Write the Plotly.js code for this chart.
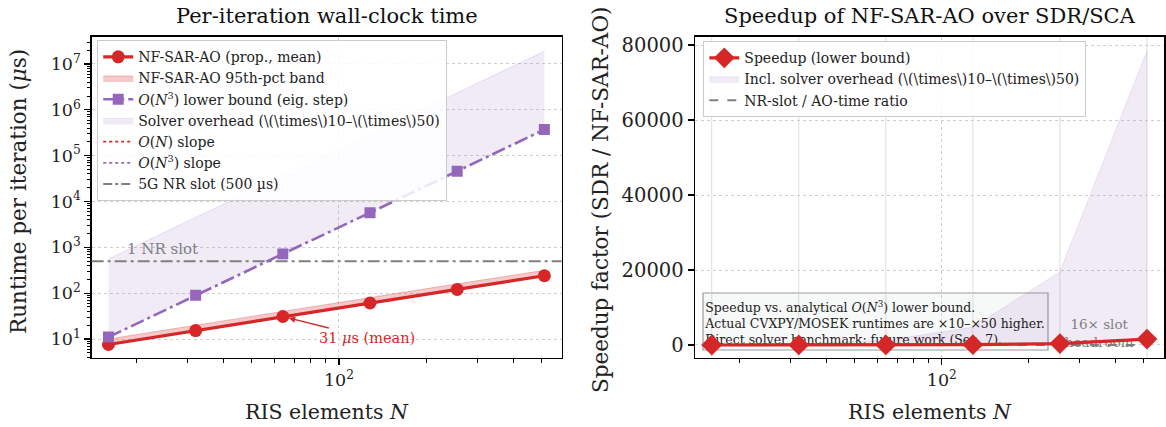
<!DOCTYPE html>
<html>
<head>
<meta charset="utf-8">
<script src="https://cdn.plot.ly/plotly-3.0.1.min.js"></script>
<style>html,body{margin:0;padding:0;background:#fff;} #chart{width:1166px;height:427px;}</style>
</head>
<body>
<div id="chart"></div>
<script>
// ---------------- data ----------------
const N = [16, 32, 64, 128, 256, 512];
const aoMean = [7.6, 15.3, 31, 61, 121, 240];
const aoP5 = [7.2, 14.6, 29.5, 58, 115, 228];
const aoP95 = [10, 20, 41, 80, 160, 315];
const eigLowerBound = [11, 90, 720, 5700, 46000, 370000];
const overheadHigh = [560, 4500, 36000, 290000, 2300000, 19000000];
const nrSlotUs = 500;
const speedup = [1.5, 6, 24, 95, 390, 1570];
const speedupHigh = [75, 300, 1200, 4750, 19500, 78500];
const slotRatio = [66, 33, 16, 8.2, 4.1, 2.1];
const yTicksLeft = [10, 100, 1000, 10000, 100000, 1000000, 10000000];
const yTickTextLeft = ['10<sup>1</sup>','10<sup>2</sup>','10<sup>3</sup>','10<sup>4</sup>','10<sup>5</sup>','10<sup>6</sup>','10<sup>7</sup>'];
const yTicksRight = [0, 20000, 40000, 60000, 80000];
const xTicks = [100];
const xTickText = ['10<sup>2</sup>'];
const xMinorTicks = [20, 30, 40, 50, 60, 70, 80, 90, 200, 300, 400, 500];

// ---------------- styles ----------------
const RED = '#d62728', PURPLE = '#9467bd', GREY = '#7f7f7f';
const FONT = 'DejaVu Serif, serif';

const yMinorLeft = [];
for (let e = 0; e < 8; e++) for (let k = 2; k <= 9; k++) yMinorLeft.push(k * Math.pow(10, e));

const traces = [
  // left: 95th pct band
  {x: N, y: aoP5, mode: 'lines', line: {width: 0, color: RED}, showlegend: false, hoverinfo: 'skip', xaxis: 'x', yaxis: 'y'},
  {x: N, y: aoP95, mode: 'lines', fill: 'tonexty', fillcolor: 'rgba(214,39,40,0.25)', line: {width: 0.8, color: 'rgba(214,39,40,0.35)'},
   name: 'NF-SAR-AO 95th-pct band', legend: 'legend', legendrank: 2, xaxis: 'x', yaxis: 'y'},
  // left: solver overhead band
  {x: N, y: eigLowerBound, mode: 'lines', line: {width: 0, color: PURPLE}, showlegend: false, hoverinfo: 'skip', xaxis: 'x', yaxis: 'y'},
  {x: N, y: overheadHigh, mode: 'lines', fill: 'tonexty', fillcolor: 'rgba(148,103,189,0.13)', line: {width: 0.8, color: 'rgba(148,103,189,0.2)'},
   name: 'Solver overhead (\\(\\times\\)10–\\(\\times\\)50)', legend: 'legend', legendrank: 4, xaxis: 'x', yaxis: 'y'},
  // left: red mean
  {x: N, y: aoMean, mode: 'lines+markers', line: {width: 3.2, color: RED}, marker: {symbol: 'circle', size: 13, color: RED},
   name: 'NF-SAR-AO (prop., mean)', legend: 'legend', legendrank: 1, xaxis: 'x', yaxis: 'y'},
  // left: purple lower bound
  {x: N, y: eigLowerBound, mode: 'lines+markers', line: {width: 2.6, color: PURPLE, dash: '14px,4px,3px,4px'}, marker: {symbol: 'square', size: 11, color: PURPLE},
   name: '<i>O</i>(<i>N</i><sup>3</sup>) lower bound (eig. step)', legend: 'legend', legendrank: 3, xaxis: 'x', yaxis: 'y'},
  // legend-only helpers
  {x: [null], y: [null], mode: 'lines', line: {width: 1.8, color: RED, dash: 'dot'}, name: '<i>O</i>(<i>N</i>) slope', legend: 'legend', legendrank: 5, xaxis: 'x', yaxis: 'y'},
  {x: [null], y: [null], mode: 'lines', line: {width: 1.8, color: PURPLE, dash: 'dot'}, name: '<i>O</i>(<i>N</i><sup>3</sup>) slope', legend: 'legend', legendrank: 6, xaxis: 'x', yaxis: 'y'},
  {x: [null], y: [null], mode: 'lines', line: {width: 2, color: GREY, dash: 'dashdot'}, name: '5G NR slot (500 µs)', legend: 'legend', legendrank: 7, xaxis: 'x', yaxis: 'y'},

  // right: overhead band
  {x: N, y: speedup, mode: 'lines', line: {width: 0, color: PURPLE}, showlegend: false, hoverinfo: 'skip', xaxis: 'x2', yaxis: 'y2'},
  {x: N, y: speedupHigh, mode: 'lines', fill: 'tonexty', fillcolor: 'rgba(148,103,189,0.13)', line: {width: 0.8, color: 'rgba(148,103,189,0.2)'},
   name: 'Incl. solver overhead (\\(\\times\\)10–\\(\\times\\)50)', legend: 'legend2', legendrank: 2, xaxis: 'x2', yaxis: 'y2'},
  // right: note text (drawn under the lines)
  {x: [15.2], y: [5300], mode: 'text', textposition: 'middle right',
   text: ['Speedup vs. analytical <i>O</i>(<i>N</i><sup>3</sup>) lower bound.<br>Actual CVXPY/MOSEK runtimes are ×10–×50 higher.<br>Direct solver benchmark: future work (Sec. 7).'],
   textfont: {family: FONT, size: 12.5, color: '#222'}, showlegend: false, hoverinfo: 'skip', xaxis: 'x2', yaxis: 'y2'},
  {x: [350], y: [2700], mode: 'text', textposition: 'middle center', text: ['16× slot<br>headroom'],
   textfont: {family: FONT, size: 13.5, color: GREY}, showlegend: false, hoverinfo: 'skip', xaxis: 'x2', yaxis: 'y2'},
  // right: slot ratio
  {x: N, y: slotRatio, mode: 'lines', line: {width: 2, color: GREY, dash: 'dash'},
   name: 'NR-slot / AO-time ratio', legend: 'legend2', legendrank: 3, xaxis: 'x2', yaxis: 'y2'},
  // right: speedup
  {x: N, y: speedup, mode: 'lines+markers', line: {width: 3.2, color: RED}, marker: {symbol: 'diamond', size: 16, color: RED},
   name: 'Speedup (lower bound)', legend: 'legend2', legendrank: 1, xaxis: 'x2', yaxis: 'y2'}
];

const axisCommon = {
  showline: true, linecolor: 'black', linewidth: 1.4, mirror: true,
  ticks: 'outside', ticklen: 6, tickwidth: 1.2, tickcolor: 'black',
  showgrid: true, gridcolor: '#cfcfcf', griddash: 'dot', gridwidth: 1,
  zeroline: false, tickfont: {family: FONT, size: 17.5, color: '#222'}
};

const xBase = Object.assign({}, axisCommon, {
  type: 'log', range: [1.146, 2.769], tickmode: 'array', tickvals: xTicks, ticktext: xTickText,
  minor: {tickmode: 'array', tickvals: xMinorTicks, ticks: 'outside', ticklen: 3.5, tickwidth: 1, tickcolor: 'black', showgrid: false}
});

const vlines = N.map(n => ({type: 'line', xref: 'x2', yref: 'y2', x0: n, x1: n, y0: -3467, y1: 82213,
  line: {color: 'rgba(205,205,205,0.7)', width: 1}, layer: 'below'}));

const legendCommon = {xanchor: 'left', yanchor: 'top', bgcolor: 'rgba(255,255,255,0.85)',
  bordercolor: '#cccccc', borderwidth: 1.2, font: {family: FONT, size: 14, color: '#222'}, traceorder: 'normal', itemwidth: 30};

const layout = {
  width: 1166, height: 427, margin: {l: 0, r: 0, t: 0, b: 0},
  paper_bgcolor: 'white', plot_bgcolor: 'white', showlegend: true,
  font: {family: FONT, color: '#222'},
  xaxis: Object.assign({}, xBase, {domain: [0.0786, 0.4817], anchor: 'y'}),
  yaxis: Object.assign({}, axisCommon, {
    domain: [0.1616, 0.914], anchor: 'x', type: 'log', range: [0.586, 7.595],
    tickmode: 'array', tickvals: yTicksLeft, ticktext: yTickTextLeft,
    minor: {tickmode: 'array', tickvals: yMinorLeft, ticks: 'outside', ticklen: 3.5, tickwidth: 1, tickcolor: 'black', showgrid: false}
  }),
  xaxis2: Object.assign({}, xBase, {domain: [0.596, 0.9985], anchor: 'y2'}),
  yaxis2: Object.assign({}, axisCommon, {
    domain: [0.1616, 0.914], anchor: 'x2', range: [-3467, 82213],
    tickmode: 'array', tickvals: yTicksRight, ticktext: yTicksRight.map(String),
    tickfont: {family: FONT, size: 19.5, color: '#222'}
  }),
  legend: Object.assign({x: 0.0832, y: 1 - 40/427}, legendCommon),
  legend2: Object.assign({x: 0.603, y: 1 - 41/427}, legendCommon),
  shapes: [
    {type: 'line', xref: 'x domain', yref: 'y', x0: 0, x1: 1, y0: nrSlotUs, y1: nrSlotUs,
     line: {color: GREY, width: 2, dash: '12px,4px,3px,4px'}, layer: 'above'},
    ...vlines,
    {type: 'rect', xref: 'paper', yref: 'paper', x0: 0.6029, x1: 0.8988, y0: 0.1803, y1: 0.3138,
     fillcolor: 'rgba(247,248,248,0.95)', line: {color: '#9a9a9a', width: 1.2}, layer: 'below'}
  ],
  annotations: [
    {text: 'Per-iteration wall-clock time', xref: 'paper', yref: 'paper', x: 0.2802, y: 1 - 16/427, xanchor: 'center', yanchor: 'middle',
     showarrow: false, font: {family: FONT, size: 21, color: '#111'}},
    {text: 'Speedup of NF-SAR-AO over SDR/SCA', xref: 'paper', yref: 'paper', x: 0.7976, y: 1 - 16/427, xanchor: 'center', yanchor: 'middle',
     showarrow: false, font: {family: FONT, size: 21, color: '#111'}},
    {text: 'RIS elements <i>N</i>', xref: 'paper', yref: 'paper', x: 0.2802, y: 1 - 412/427, xanchor: 'center', yanchor: 'middle',
     showarrow: false, font: {family: FONT, size: 20.5, color: '#222'}},
    {text: 'RIS elements <i>N</i>', xref: 'paper', yref: 'paper', x: 0.7976, y: 1 - 412/427, xanchor: 'center', yanchor: 'middle',
     showarrow: false, font: {family: FONT, size: 20.5, color: '#222'}},
    {text: 'Runtime per iteration (<i>μ</i>s)', xref: 'paper', yref: 'paper', x: 18/1166, y: 1 - 192/427, xanchor: 'center', yanchor: 'middle',
     textangle: -90, showarrow: false, font: {family: FONT, size: 21.5, color: '#222'}},
    {text: 'Speedup factor (SDR / NF-SAR-AO)', xref: 'paper', yref: 'paper', x: 600/1166, y: 1 - 200/427, xanchor: 'center', yanchor: 'middle',
     textangle: -90, showarrow: false, font: {family: FONT, size: 21.5, color: '#222'}},
    {text: '1 NR slot', xref: 'x', yref: 'y', x: Math.log10(18.3), y: Math.log10(nrSlotUs), xanchor: 'left', yanchor: 'bottom', yshift: 1,
     showarrow: false, font: {family: FONT, size: 15, color: GREY}},
    {text: '31 <i>μ</i>s (mean)', xref: 'x', yref: 'y', x: Math.log10(N[2]), y: Math.log10(aoMean[2]), ax: 84, ay: 21,
     showarrow: true, arrowhead: 2, arrowsize: 1, arrowwidth: 1.3, arrowcolor: RED, standoff: 6,
     font: {family: FONT, size: 14.5, color: RED}}
  ]
};

Plotly.newPlot('chart', traces, layout, {displayModeBar: false, staticPlot: true});
</script>
</body>
</html>
